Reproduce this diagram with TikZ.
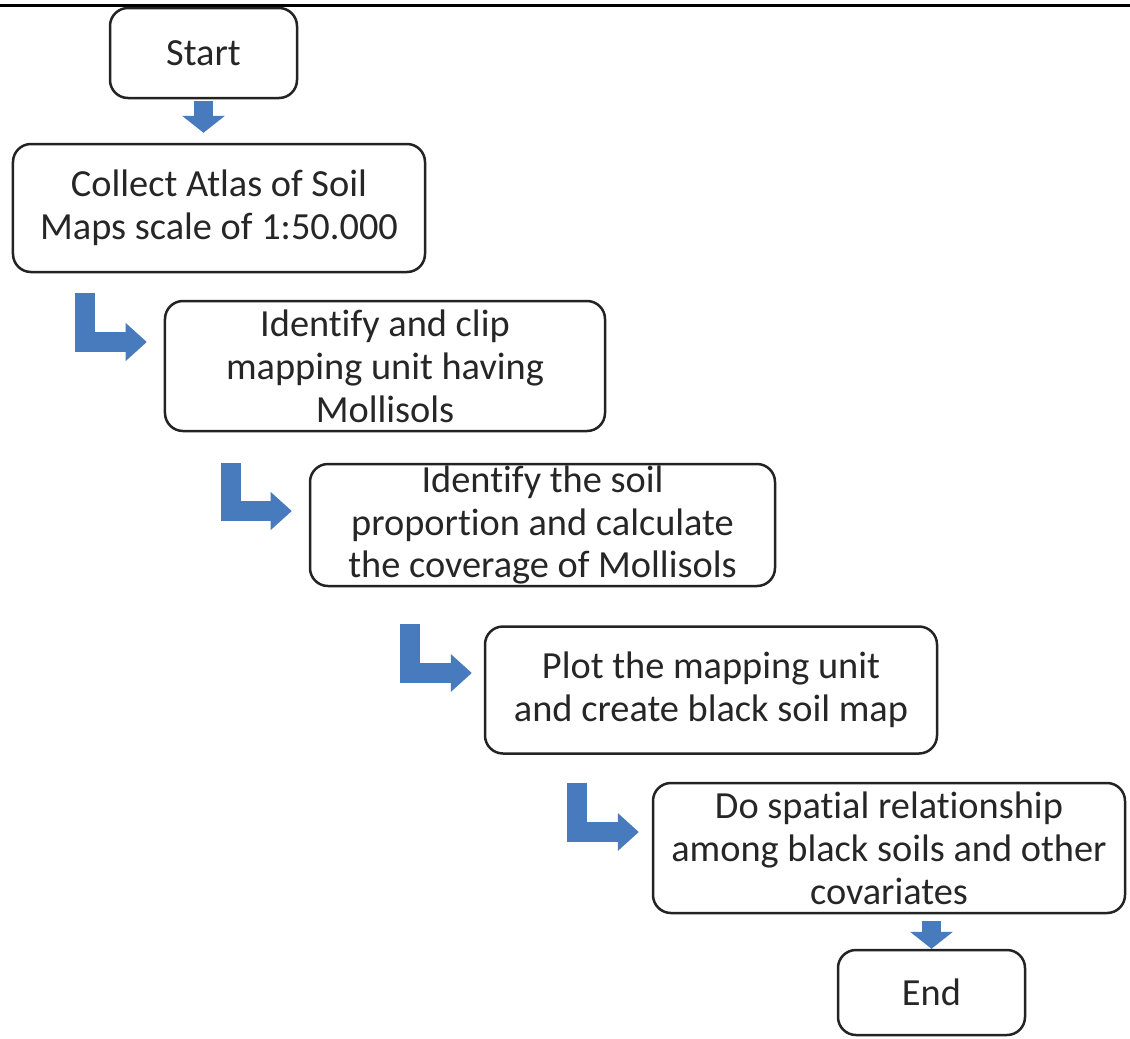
\documentclass[tikz,border=0pt]{standalone}
\usepackage{fontspec}
\setmainfont{Carlito}[Ligatures=NoCommon]
\usetikzlibrary{arrows.meta,positioning}

\definecolor{boxline}{RGB}{35,35,35}
\definecolor{arrowblue}{RGB}{72,122,190}

\begin{document}
\begin{tikzpicture}[x=1bp,y=-1bp,
  box/.style={draw=boxline,line width=2.5bp,rounded corners=18bp,align=center,
    inner sep=0pt,text=black!85,font=\fontsize{38.5}{43}\selectfont},
  dnarrow/.style={draw=arrowblue,line width=19bp,
    -{Triangle[width=43bp,length=17bp,line width=0pt]}},
  larrow/.style={draw=arrowblue,line width=20bp,line join=miter,
    -{Triangle[width=38bp,length=21bp,line width=0pt]}}]
  \useasboundingbox (0,0) rectangle (1130,1039);
  \draw[line width=3bp] (0,5) -- (1130,5);

  \node (start) at (203.5,53) [box,minimum width=187bp,minimum height=90bp] {Start};
  \node (collect) at (219,208) [box,minimum width=412bp,minimum height=128bp]
    {Collect Atlas of Soil\\Maps scale of 1:50.000};
  \node (clip) at (385,366) [box,minimum width=440bp,minimum height=130bp]
    {Identify and clip\\mapping unit having\\Mollisols};
  \node (prop) at (542.5,525) [box,minimum width=465bp,minimum height=122bp]
    {Identify the soil\\proportion and calculate\\the coverage of Mollisols};
  \node (plot) at (711,690) [box,minimum width=452bp,minimum height=127bp]
    {Plot the mapping unit\\and create black soil map};
  \node (spatial) at (889,848) [box,minimum width=472bp,minimum height=130bp]
    {Do spatial relationship\\among black soils and other\\covariates};
  \node (finish) at (931.5,992.5) [box,minimum width=187bp,minimum height=85bp] {End};

  % tails of the bent arrows
  \coordinate (t1) at ([xshift=73bp,yshift=-20bp]collect.south west);
  \coordinate (t2) at ([xshift=67bp,yshift=-31bp]clip.south west);
  \coordinate (t3) at ([xshift=101bp,yshift=-37bp]prop.south west);
  \coordinate (t4) at ([xshift=93bp,yshift=-28bp]plot.south west);

  \draw[dnarrow,shorten <=2bp,shorten >=10bp] (start.south) -- (start.south |- collect.north);
  \draw[larrow,shorten >=17bp] (t1) |- ([yshift=24bp]clip.west);
  \draw[larrow,shorten >=17bp] (t2) |- ([yshift=14bp]prop.west);
  \draw[larrow,shorten >=12bp] (t3) |- ([yshift=17bp]plot.west);
  \draw[larrow,shorten >=13bp] (t4) |- ([yshift=16bp]spatial.west);
  \draw[dnarrow,shorten <=7bp] (finish.north |- spatial.south) -- (finish.north);
\end{tikzpicture}
\end{document}
